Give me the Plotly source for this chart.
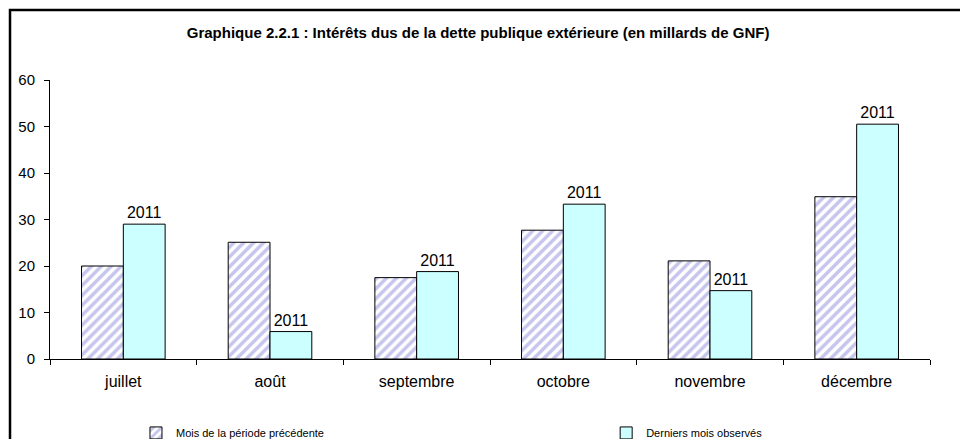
import plotly.graph_objects as go

# data (milliards de GNF)
months = ["juillet", "août", "septembre", "octobre", "novembre", "décembre"]
previous_period = [20.0, 25.1, 17.5, 27.7, 21.1, 34.9]
last_observed = [29.0, 5.9, 18.8, 33.3, 14.7, 50.5]
bar_labels = ["2011", "2011", "2011", "2011", "2011", "2011"]

title = "Graphique 2.2.1 : Intérêts dus de la dette publique extérieure (en millards de GNF)"
font = "Liberation Sans, Arial, sans-serif"


def build_figure():
    fig = go.Figure()

    fig.add_trace(go.Bar(
        x=months,
        y=previous_period,
        name="Mois de la période précédente",
        legend="legend",
        marker=dict(
            color="white",
            line=dict(color="black", width=1),
            pattern=dict(shape="/", fgcolor="#8c8cdc", bgcolor="white",
                         size=7, solidity=0.5),
        ),
    ))
    fig.add_trace(go.Bar(
        x=months,
        y=last_observed,
        name="Derniers mois observés",
        legend="legend2",
        text=bar_labels,
        textposition="outside",
        textfont=dict(size=16, color="black", family=font),
        cliponaxis=False,
        marker=dict(color="#ccffff", line=dict(color="black", width=1)),
    ))

    legend_style = dict(orientation="h", xanchor="left", y=-0.265,
                        yanchor="middle", font=dict(size=11, family=font),
                        bgcolor="rgba(0,0,0,0)")
    fig.update_layout(
        width=960, height=439,
        margin=dict(l=50, r=30, t=80, b=80, autoexpand=False),
        paper_bgcolor="white", plot_bgcolor="white",
        font=dict(family=font, color="black", size=16),
        barmode="group", bargap=0.43, bargroupgap=0,
        title=dict(text="<b>" + title + "</b>", x=0.498, xanchor="center",
                   y=1 - 33 / 439, yanchor="middle", yref="container",
                   font=dict(size=15, family=font)),
        showlegend=True,
        legend=dict(x=0.0977, **legend_style),
        legend2=dict(x=0.632, **legend_style),
    )
    fig.update_xaxes(showline=True, linecolor="black", linewidth=1,
                     ticks="outside", tickson="boundaries", ticklen=5,
                     tickcolor="black", showgrid=False, ticklabelstandoff=8,
                     tickfont=dict(size=16))
    fig.update_yaxes(range=[0, 60], dtick=10, showline=True, linecolor="black",
                     linewidth=1, ticks="outside", ticklen=5, tickcolor="black",
                     showgrid=False, zeroline=False, ticklabelstandoff=6,
                     tickfont=dict(size=15))

    # outer frame of the chart
    fig.add_shape(type="rect", xref="paper", yref="paper",
                  x0=-40 / 880, x1=1 + 60 / 880, y0=-110 / 279, y1=1 + 70 / 279,
                  line=dict(color="black", width=2.5), layer="above")
    return fig


def main():
    fig = build_figure()
    # page body has a default 8px margin, drop it so the figure sits at 0,0
    fig.write_html("out.html", config={"displayModeBar": False},
                   post_script="document.body.style.margin='0';")


if __name__ == '__main__':
    main()
